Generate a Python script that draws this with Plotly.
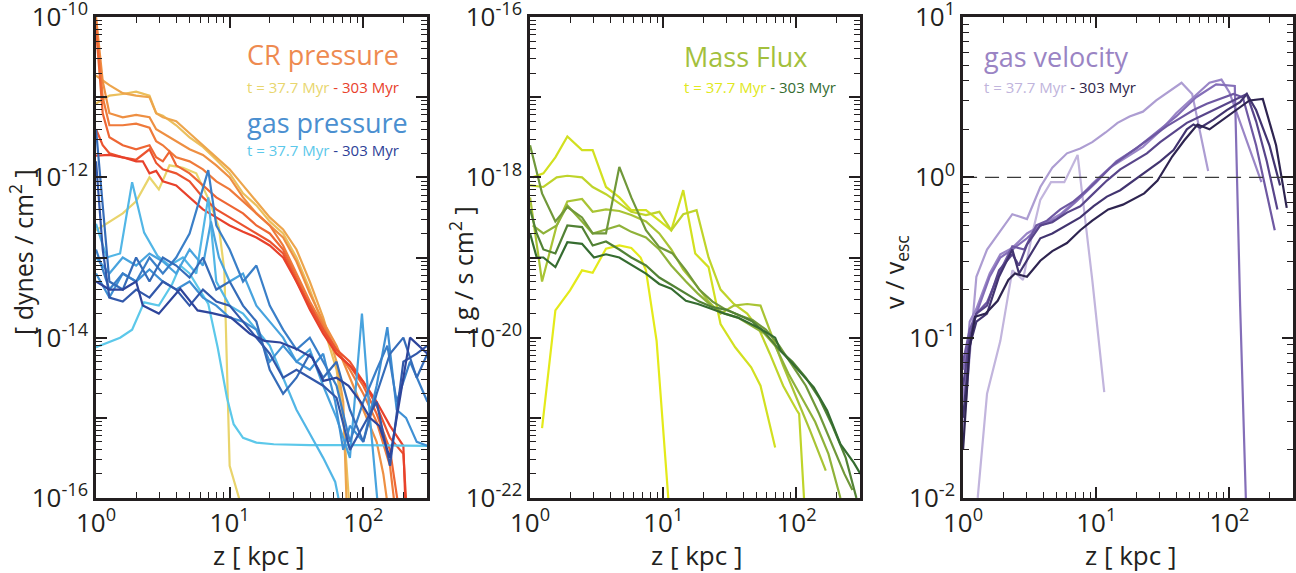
import plotly.graph_objects as go

FONT = "Open Sans"
INK = "#231f20"

# ---------------- data: log10(z [kpc]) and log10(value) per snapshot ----------------
# Panel 1: CR pressure (t = 37.7 Myr ... 303 Myr)
cr_lz = [
    [0, 0.1, 0.2, 0.3, 0.4, 0.47, 0.55, 0.65, 0.75, 0.85, 0.92, 0.96, 1.0, 1.07, 1.12],
    [0, 0.1, 0.2, 0.3, 0.4, 0.45, 0.5, 0.6, 0.7, 0.8, 0.9, 1.0, 1.1, 1.2, 1.3, 1.4, 1.5, 1.6, 1.7, 1.8, 1.85, 1.9],
    [0, 0.1, 0.2, 0.3, 0.4, 0.45, 0.5, 0.6, 0.7, 0.8, 0.9, 1.0, 1.1, 1.2, 1.3, 1.4, 1.5, 1.6, 1.7, 1.8, 1.85, 1.88],
    [0, 0.05, 0.1, 0.2, 0.3, 0.4, 0.45, 0.5, 0.6, 0.7, 0.8, 0.9, 1.0, 1.1, 1.2, 1.3, 1.4, 1.5, 1.6, 1.7, 1.8, 1.9, 2.0, 2.1, 2.15, 2.2],
    [0, 0.05, 0.1, 0.2, 0.3, 0.4, 0.45, 0.5, 0.6, 0.7, 0.8, 0.9, 1.0, 1.1, 1.2, 1.3, 1.4, 1.5, 1.6, 1.7, 1.8, 1.9, 2.0, 2.1, 2.2, 2.25],
    [0, 0.05, 0.1, 0.2, 0.3, 0.4, 0.45, 0.5, 0.55, 0.6, 0.7, 0.8, 0.9, 1.0, 1.1, 1.2, 1.3, 1.4, 1.5, 1.6, 1.7, 1.8, 1.9, 2.0, 2.1, 2.2, 2.28],
    [0, 0.05, 0.1, 0.2, 0.3, 0.4, 0.45, 0.5, 0.6, 0.7, 0.8, 0.9, 1.0, 1.1, 1.2, 1.3, 1.4, 1.5, 1.6, 1.7, 1.8, 1.9, 2.0, 2.1, 2.2, 2.3, 2.33],
    [0, 0.1, 0.2, 0.3, 0.35, 0.4, 0.45, 0.5, 0.6, 0.7, 0.8, 0.9, 1.0, 1.1, 1.2, 1.3, 1.4, 1.5, 1.6, 1.7, 1.8, 1.9, 2.0, 2.1, 2.2, 2.3, 2.32],
]
cr_lp = [
    [-12.66, -12.55, -12.45, -12.3, -12.0, -12.15, -11.85, -11.88, -11.95, -12.3, -12.63, -13.16, -15.6, -16.0, -16.5],
    [-11.08, -10.98, -10.96, -10.93, -10.98, -11.2, -11.23, -11.35, -11.5, -11.62, -11.78, -11.95, -12.2, -12.35, -12.55, -12.7, -13.0, -13.4, -13.85, -14.4, -15.0, -16.2],
    [-10.73, -10.85, -10.95, -10.98, -11.0, -11.2, -11.25, -11.3, -11.45, -11.6, -11.75, -11.9, -12.1, -12.3, -12.5, -12.65, -12.9, -13.3, -13.75, -14.3, -14.8, -16.3],
    [-10.0, -10.8, -11.2, -11.25, -11.22, -11.25, -11.4, -11.45, -11.55, -11.65, -11.72, -11.85, -12.0, -12.25, -12.45, -12.6, -12.75, -13.05, -13.45, -13.8, -14.1, -14.5, -14.9, -15.3, -15.7, -16.3],
    [-10.05, -11.0, -11.35, -11.35, -11.33, -11.38, -11.55, -11.6, -11.75, -11.8, -11.9, -12.05, -12.15, -12.3, -12.45, -12.6, -12.85, -13.2, -13.55, -13.85, -14.15, -14.4, -14.7, -15.05, -15.6, -16.3],
    [-10.15, -11.2, -11.5, -11.6, -11.65, -11.6, -11.75, -11.8, -11.68, -11.85, -11.95, -12.1, -12.25, -12.35, -12.45, -12.6, -12.7, -12.9, -13.25, -13.6, -13.9, -14.2, -14.35, -14.6, -14.95, -15.4, -16.3],
    [-11.4, -11.6, -11.7, -11.75, -11.78, -11.65, -11.82, -11.9, -11.95, -12.05, -12.25, -12.4, -12.5, -12.6, -12.7, -12.8, -12.95, -13.3, -13.6, -13.9, -14.15, -14.3, -14.55, -14.85, -15.25, -15.45, -16.3],
    [-11.73, -11.72, -11.75, -11.8, -11.8, -11.95, -11.92, -12.05, -12.1, -12.25, -12.4, -12.5, -12.6, -12.68, -12.75, -12.85, -13.0, -13.3, -13.65, -13.95, -14.2, -14.35, -14.55, -14.8, -15.1, -15.35, -16.3],
]
cr_colors = ["#e9d46c", "#ebbf5c", "#eda54c", "#ee8f42", "#ef7a3b", "#ee6634", "#eb532f", "#e8412b"]

# Panel 1: gas pressure
ga_lz = [
    [0, 0.18, 0.27, 0.36, 0.47, 0.57, 0.63, 0.7, 0.84, 0.91, 0.98, 1.03, 1.1, 1.2, 1.33, 1.6, 2.0, 2.48],
    [0, 0.08, 0.18, 0.27, 0.36, 0.46, 0.55, 0.65, 0.75, 0.84, 0.9, 1.0, 1.1, 1.2, 1.3, 1.4, 1.5, 1.6, 1.7, 1.79, 1.85],
    [0, 0.1, 0.2, 0.3, 0.4, 0.5, 0.6, 0.7, 0.8, 0.86, 0.92, 1.0, 1.1, 1.2, 1.3, 1.4, 1.5, 1.6, 1.7, 1.8, 1.9, 1.99, 2.05, 2.12],
    [0, 0.1, 0.2, 0.3, 0.4, 0.5, 0.6, 0.7, 0.8, 0.9, 1.0, 1.1, 1.2, 1.3, 1.4, 1.5, 1.6, 1.7, 1.79, 1.85, 1.9, 2.0, 2.1, 2.18, 2.25, 2.32, 2.4, 2.48],
    [0, 0.1, 0.2, 0.3, 0.4, 0.5, 0.6, 0.7, 0.84, 0.9, 1.0, 1.1, 1.2, 1.3, 1.4, 1.5, 1.6, 1.7, 1.8, 1.9, 2.0, 2.1, 2.18, 2.25, 2.35, 2.48],
    [0, 0.06, 0.1, 0.2, 0.3, 0.4, 0.5, 0.6, 0.7, 0.8, 0.9, 1.0, 1.1, 1.2, 1.3, 1.4, 1.5, 1.6, 1.7, 1.8, 1.9, 2.0, 2.1, 2.2, 2.3, 2.4, 2.48],
    [0, 0.05, 0.1, 0.2, 0.3, 0.4, 0.5, 0.6, 0.7, 0.8, 0.9, 1.0, 1.1, 1.2, 1.3, 1.4, 1.5, 1.6, 1.7, 1.8, 1.9, 2.0, 2.1, 2.2, 2.3, 2.4, 2.48],
    [0, 0.1, 0.2, 0.3, 0.35, 0.47, 0.63, 0.76, 0.86, 1.01, 1.15, 1.26, 1.38, 1.5, 1.62, 1.7, 1.8, 1.89, 1.98, 2.05, 2.12, 2.2, 2.28, 2.35, 2.48],
]
ga_lp = [
    [-14.12, -14.0, -13.9, -13.56, -13.6, -13.33, -13.1, -13.2, -13.58, -14.12, -14.75, -15.08, -15.25, -15.31, -15.33, -15.34, -15.34, -15.35],
    [-12.58, -13.0, -12.95, -12.06, -12.69, -12.98, -13.1, -13.0, -13.2, -12.25, -13.3, -13.6, -13.7, -13.9, -14.1, -14.5, -14.9, -15.2, -15.5, -15.8, -16.3],
    [-13.0, -13.2, -13.0, -13.1, -12.95, -13.05, -13.2, -12.9, -13.1, -12.55, -13.0, -13.3, -13.2, -13.6, -13.8, -14.0, -14.3, -14.15, -14.6, -15.0, -15.5, -13.7, -15.0, -16.3],
    [-13.2, -13.5, -13.2, -13.3, -13.15, -13.3, -13.4, -13.3, -13.5, -13.6, -13.75, -13.8, -13.9, -14.3, -14.1, -14.3, -14.4, -14.2, -14.8, -15.4, -15.1, -15.3, -14.6, -13.87, -14.9, -15.0, -15.3, -15.35],
    [-12.9, -13.4, -13.2, -13.3, -13.0, -13.2, -13.0, -12.7, -11.91, -12.6, -12.9, -13.3, -13.1, -13.6, -13.9, -14.15, -14.0, -14.3, -14.6, -15.3, -14.8, -14.4, -14.1, -14.8, -14.3, -14.8],
    [-11.4, -12.5, -13.3, -13.4, -13.0, -13.3, -13.0, -13.1, -13.25, -13.0, -13.4, -13.3, -13.6, -13.8, -14.4, -14.7, -14.5, -14.2, -14.5, -14.3, -14.9, -15.3, -14.7, -14.2, -14.0, -14.5, -14.2],
    [-11.8, -12.9, -13.5, -13.55, -13.4, -13.5, -13.3, -13.4, -13.6, -13.4, -13.55, -13.6, -13.8, -14.0, -14.2, -14.5, -14.4, -14.5, -14.6, -14.75, -15.4, -15.1, -14.8, -15.6, -14.3, -14.2, -14.1],
    [-13.3, -13.4, -13.4, -13.3, -13.6, -13.7, -13.39, -13.66, -13.69, -13.75, -13.95, -14.04, -14.06, -14.14, -14.25, -14.54, -14.5, -14.6, -14.8, -15.0, -15.1, -15.5, -14.7, -14.0, -14.2],
]
ga_colors = ["#5cc8ea", "#52b6e6", "#48a3de", "#3f90d4", "#3a7fc8", "#356cb9", "#3258aa", "#2e459b"]

# Panel 2: mass flux
fl_lz = [
    [0.09, 0.19, 0.3, 0.39, 0.47, 0.57, 0.67, 0.76, 0.83, 0.87, 0.95, 1.03, 1.06],
    [0.02, 0.1, 0.19, 0.28, 0.39, 0.47, 0.57, 0.67, 0.76, 0.87, 0.97, 1.06, 1.15, 1.24, 1.34, 1.43, 1.54, 1.66, 1.73, 1.84],
    [0.0, 0.1, 0.2, 0.28, 0.39, 0.47, 0.57, 0.67, 0.76, 0.87, 0.97, 1.06, 1.15, 1.25, 1.34, 1.43, 1.53, 1.63, 1.72, 1.8, 1.9, 2.0, 2.02, 2.06],
    [0, 0.09, 0.2, 0.28, 0.39, 0.47, 0.57, 0.67, 0.76, 0.87, 0.97, 1.06, 1.15, 1.25, 1.34, 1.43, 1.53, 1.63, 1.73, 1.8, 1.9, 2.0, 2.1, 2.22],
    [0.02, 0.1, 0.2, 0.28, 0.39, 0.47, 0.57, 0.67, 0.76, 0.87, 0.97, 1.06, 1.17, 1.26, 1.36, 1.46, 1.56, 1.66, 1.76, 1.84, 1.94, 2.04, 2.14, 2.24, 2.33],
    [0, 0.09, 0.19, 0.28, 0.39, 0.47, 0.57, 0.67, 0.76, 0.87, 0.97, 1.07, 1.17, 1.27, 1.37, 1.47, 1.57, 1.67, 1.77, 1.87, 1.97, 2.07, 2.17, 2.27, 2.36, 2.42],
    [0, 0.05, 0.1, 0.19, 0.28, 0.39, 0.47, 0.57, 0.67, 0.76, 0.87, 0.97, 1.07, 1.17, 1.27, 1.37, 1.47, 1.57, 1.67, 1.77, 1.87, 1.97, 2.07, 2.17, 2.27, 2.37, 2.45],
    [0, 0.05, 0.1, 0.19, 0.28, 0.39, 0.48, 0.57, 0.67, 0.77, 0.87, 0.97, 1.06, 1.17, 1.26, 1.36, 1.46, 1.56, 1.66, 1.73, 1.84, 1.88, 1.93, 2.03, 2.13, 2.23, 2.33, 2.43, 2.48],
]
fl_lp = [
    [-21.13, -19.66, -19.41, -19.16, -19.19, -18.89, -18.85, -18.88, -19.0, -19.16, -20.04, -21.88, -22.5],
    [-18.0, -17.95, -17.75, -17.49, -17.66, -17.66, -18.12, -18.25, -18.41, -18.41, -18.54, -18.66, -18.16, -18.95, -19.12, -19.83, -20.12, -20.37, -20.6, -21.37],
    [-18.1, -18.12, -18.0, -17.98, -18.0, -18.12, -18.21, -18.33, -18.43, -18.47, -18.43, -18.66, -18.46, -18.41, -19.0, -19.4, -19.58, -19.7, -19.9, -20.2, -20.6, -20.9, -20.95, -22.1],
    [-18.25, -19.3, -18.6, -18.3, -18.27, -18.43, -18.4, -18.42, -18.47, -18.55, -18.7, -18.9, -19.15, -19.35, -19.55, -19.7, -19.6, -19.58, -19.6, -19.9, -20.35, -20.75, -21.15, -21.66],
    [-18.6, -18.7, -18.6, -18.35, -18.55, -18.7, -18.65, -18.6, -18.68, -18.75, -18.9, -19.1, -19.3, -19.45, -19.6, -19.7, -19.75, -19.85, -19.95, -20.1, -20.45, -20.75, -21.05, -21.45, -22.0],
    [-17.6, -18.2, -18.55, -18.37, -18.5, -18.7, -18.7, -17.87, -18.25, -18.66, -18.87, -18.95, -19.16, -19.4, -19.55, -19.65, -19.72, -19.78, -19.9, -20.1, -20.35, -20.6, -20.95, -21.35, -21.7, -21.9],
    [-18.4, -18.7, -18.9, -18.95, -18.6, -18.62, -18.85, -18.8, -18.9, -19.0, -19.1, -19.25, -19.35, -19.45, -19.55, -19.62, -19.65, -19.72, -19.8, -19.95, -20.15, -20.3, -20.5, -20.75, -21.1, -21.5, -22.0],
    [-18.7, -19.0, -19.0, -19.12, -18.81, -18.83, -19.0, -18.96, -19.0, -19.1, -19.2, -19.33, -19.39, -19.54, -19.58, -19.64, -19.7, -19.75, -19.83, -19.89, -20.0, -20.16, -20.25, -20.43, -20.62, -20.91, -21.33, -21.56, -21.7],
]
fl_colors = ["#e4ea1a", "#d2e020", "#bfd42a", "#a9c434", "#8fb23a", "#70983a", "#528235", "#356c30"]

# Panel 3: gas velocity / escape velocity
ve_lz = [
    [0.11, 0.18, 0.28, 0.37, 0.45, 0.52, 0.58, 0.66, 0.76, 0.86, 0.97, 1.06],
    [0.0, 0.05, 0.1, 0.18, 0.28, 0.37, 0.48, 0.58, 0.67, 0.78, 0.88, 0.97, 1.07, 1.16, 1.25, 1.35, 1.45, 1.55, 1.64, 1.72, 1.84],
    [0.0, 0.05, 0.1, 0.2, 0.28, 0.37, 0.48, 0.58, 0.73, 0.88, 0.97, 1.1, 1.23, 1.35, 1.48, 1.6, 1.73, 1.85, 1.94, 2.0, 2.24],
    [0, 0.05, 0.1, 0.2, 0.28, 0.37, 0.48, 0.58, 0.7, 0.85, 1.0, 1.15, 1.3, 1.45, 1.6, 1.75, 1.9, 2.04, 2.08, 2.13],
    [0, 0.05, 0.1, 0.18, 0.27, 0.37, 0.46, 0.55, 0.63, 0.73, 0.83, 0.93, 1.03, 1.13, 1.23, 1.33, 1.43, 1.53, 1.63, 1.73, 1.83, 1.93, 2.03, 2.1, 2.2, 2.34],
    [0, 0.05, 0.1, 0.18, 0.27, 0.37, 0.42, 0.48, 0.58, 0.67, 0.78, 0.88, 0.98, 1.08, 1.18, 1.28, 1.38, 1.48, 1.58, 1.68, 1.78, 1.88, 1.98, 2.08, 2.13, 2.2, 2.28, 2.36],
    [0, 0.05, 0.1, 0.18, 0.27, 0.37, 0.42, 0.48, 0.58, 0.67, 0.78, 0.88, 0.98, 1.08, 1.18, 1.28, 1.38, 1.48, 1.58, 1.68, 1.73, 1.78, 1.88, 1.98, 2.08, 2.13, 2.2, 2.3, 2.38],
    [0, 0.05, 0.09, 0.17, 0.26, 0.34, 0.39, 0.48, 0.58, 0.67, 0.78, 0.88, 0.97, 1.09, 1.2, 1.27, 1.36, 1.46, 1.57, 1.66, 1.76, 1.85, 1.95, 2.05, 2.15, 2.25, 2.35, 2.43],
]
ve_lp = [
    [-2.0, -1.35, -1.02, -0.58, -0.64, -0.35, -0.14, -0.03, -0.03, 0.14, -0.64, -1.34],
    [-1.6, -1.1, -0.62, -0.45, -0.33, -0.23, -0.26, -0.06, 0.06, 0.15, 0.18, 0.22, 0.28, 0.34, 0.38, 0.41, 0.48, 0.54, 0.59, 0.52, 0.04],
    [-1.4, -0.9, -0.82, -0.6, -0.48, -0.44, -0.35, -0.3, -0.23, -0.12, -0.04, 0.06, 0.13, 0.19, 0.29, 0.4, 0.5, 0.59, 0.61, 0.53, -0.03],
    [-1.2, -1.0, -0.85, -0.62, -0.5, -0.45, -0.38, -0.3, -0.26, -0.15, -0.03, 0.1, 0.18, 0.28, 0.38, 0.5, 0.58, 0.57, -0.8, -2.2],
    [-1.15, -0.95, -0.85, -0.78, -0.6, -0.43, -0.45, -0.3, -0.27, -0.2, -0.15, -0.08, 0.0, 0.08, 0.14, 0.2, 0.26, 0.32, 0.37, 0.42, 0.46, 0.49, 0.52, 0.5, 0.2, -0.33],
    [-1.3, -1.0, -0.85, -0.8, -0.58, -0.48, -0.55, -0.42, -0.3, -0.28, -0.22, -0.18, -0.1, -0.02, 0.05, 0.1, 0.15, 0.22, 0.28, 0.34, 0.38, 0.42, 0.46, 0.5, 0.52, 0.35, 0.1, -0.2],
    [-1.5, -1.05, -0.9, -0.85, -0.62, -0.45, -0.6, -0.52, -0.38, -0.35, -0.3, -0.25, -0.18, -0.12, -0.08, -0.02, 0.04, 0.1, 0.17, 0.3, 0.33, 0.31, 0.36, 0.42, 0.47, 0.52, 0.42, 0.2, -0.05],
    [-1.7, -1.06, -0.87, -0.85, -0.77, -0.64, -0.6, -0.62, -0.52, -0.46, -0.41, -0.33, -0.27, -0.2, -0.17, -0.14, -0.1, -0.02, 0.13, 0.23, 0.33, 0.3, 0.36, 0.42, 0.48, 0.49, 0.2, -0.19],
]
ve_colors = ["#c2b5dd", "#ad9dd2", "#9985c6", "#846eb8", "#6e58a2", "#58458a", "#423470", "#2e2450"]

escape_level = [1.0, 1.0]
escape_z = [1.0, 300.0]

# ---------------- figure ----------------
fig = go.Figure()


def add_group(lzs, lps, colors, xa, ya):
    for lz, lp, c in zip(lzs, lps, colors):
        fig.add_trace(go.Scatter(
            x=[10 ** v for v in lz], y=[10 ** v for v in lp], mode="lines",
            line=dict(color=c, width=2.2), xaxis=xa, yaxis=ya, showlegend=False,
            hoverinfo="skip"))


add_group(cr_lz, cr_lp, cr_colors, "x", "y")
add_group(ga_lz, ga_lp, ga_colors, "x", "y")
add_group(fl_lz, fl_lp, fl_colors, "x2", "y2")
add_group(ve_lz, ve_lp, ve_colors, "x3", "y3")
fig.add_trace(go.Scatter(x=escape_z, y=escape_level, mode="lines",
                         line=dict(color="#3a3a3a", width=1.3, dash="14px,8px"),
                         xaxis="x3", yaxis="y3", showlegend=False, hoverinfo="skip"))


def minor_vals(e0, e1):
    out = []
    for e in range(e0, e1):
        for m in range(2, 10):
            out.append(m * 10.0 ** e)
    return out


COMMON = dict(
    type="log", showline=True, linecolor=INK, linewidth=2.5, mirror="allticks",
    ticks="inside", ticklen=11, tickwidth=1.6, tickcolor=INK, showgrid=False,
    zeroline=False, automargin=False, ticklabeloverflow="allow",
    tickfont=dict(family=FONT, size=26, color=INK),
)


def xaxis_cfg(dom, anchor):
    d = dict(COMMON)
    d.update(
        domain=dom, range=[0, 2.4771], anchor=anchor, ticklabelstandoff=0,
        tickmode="array", tickvals=[1, 10, 100],
        ticktext=["10<sup>0</sup>", "10<sup>1</sup>", "10<sup>2</sup>"],
        minor=dict(tickmode="array", tickvals=minor_vals(0, 3), ticks="inside",
                   ticklen=6, tickwidth=1.3, tickcolor=INK, showgrid=False),
    )
    return d


def yaxis_cfg(e0, e1, anchor, step):
    exps = list(range(e0, e1 + 1))
    d = dict(COMMON)
    d.update(
        domain=[0.1309, 0.9703], range=[e0 - 0.0005, e1 + 0.0005], anchor=anchor,
        tickmode="array", tickvals=[10.0 ** e for e in exps],
        ticktext=[("10<sup>%d</sup>" % e) if (e - e0) % step == 0 else "" for e in exps],
        minor=dict(tickmode="array", tickvals=minor_vals(e0, e1), ticks="inside",
                   ticklen=6, tickwidth=1.3, tickcolor=INK, showgrid=False),
    )
    return d


fig.update_layout(
    width=1296, height=573, margin=dict(l=0, r=0, t=0, b=0, autoexpand=False),
    paper_bgcolor="white", plot_bgcolor="white", showlegend=False,
    font=dict(family=FONT, color=INK),
    xaxis=xaxis_cfg([0.0741, 0.3295], "y"),
    xaxis2=xaxis_cfg([0.4090, 0.6636], "y2"),
    xaxis3=xaxis_cfg([0.7431, 0.9977], "y3"),
    yaxis=yaxis_cfg(-16, -10, "x", 2),
    yaxis2=yaxis_cfg(-22, -16, "x2", 2),
    yaxis3=yaxis_cfg(-2, 1, "x3", 1),
)


def ann(text, px, py, size, color=INK, xanchor="left", angle=0):
    fig.add_annotation(text=text, x=px / 1296, y=1 - py / 573, xref="paper", yref="paper",
                       xanchor=xanchor, yanchor="middle", showarrow=False, textangle=angle,
                       font=dict(family=FONT, size=size, color=color))


def sub(c1, c2):
    return ("<span style='color:%s'>t = 37.7 Myr</span>"
            "<span style='color:%s'> - 303 Myr</span>" % (c1, c2))


ann("CR pressure", 245, 55, 27, "#ee8a50")
ann(sub("#e8d66e", "#e8412b"), 245, 87, 15)
ann("gas pressure", 245, 123, 27, "#4a8fd0")
ann(sub("#5cc8ea", "#2e3f98"), 245, 150, 15)
ann("Mass Flux", 682, 57, 27, "#a3c03c")
ann(sub("#e0e820", "#356c30"), 682, 87, 15)
ann("gas velocity", 982, 57, 27, "#9a84c4")
ann(sub("#c0b4dc", "#2e2448"), 982, 87, 15)

ann("[ dynes / cm<sup>2</sup> ]", 21, 252, 25, angle=-90, xanchor="center")
ann("[ g / s cm<sup>2</sup> ]", 462, 270, 25, angle=-90, xanchor="center")
ann("v / v<sub>esc</sub>", 895, 272, 25, angle=-90, xanchor="center")
for cx in (258, 696, 1130):
    ann("z [ kpc ]", cx, 555, 26, xanchor="center")

fig.write_html("out.html")
